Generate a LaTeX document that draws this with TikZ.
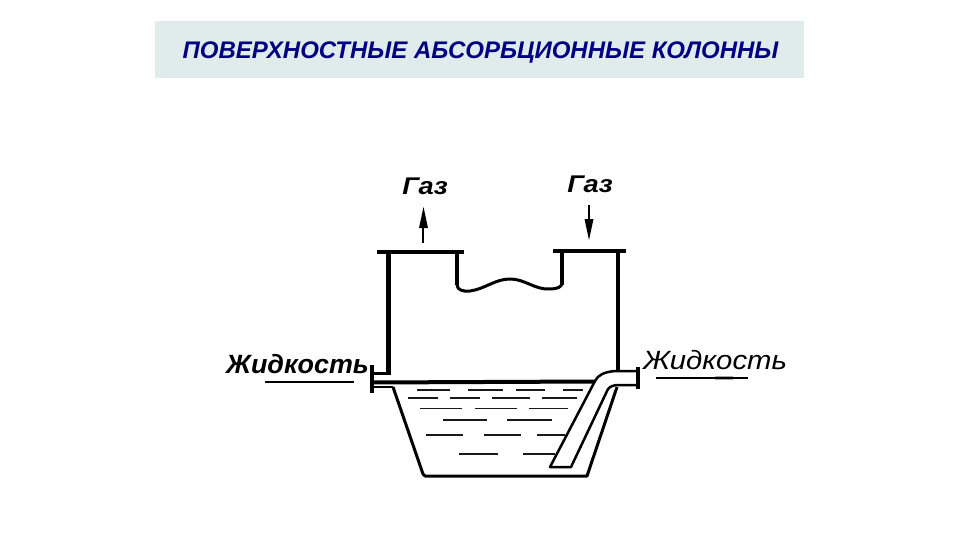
\documentclass[tikz,border=0pt]{standalone}
\usepackage{fontspec}
\setmainfont{Liberation Sans}
\definecolor{band}{HTML}{E0ECEC}
\definecolor{navytitle}{HTML}{000080}
\tikzset{
  flange/.style={line width=4.5pt,black},
  liquid/.style={line width=1.5pt,black!90},
  gaslbl/.style={font=\itshape\bfseries\fontsize{21}{21}\selectfont,inner sep=0pt,xscale=1.3,yscale=1.15},
}
\begin{document}
\begin{tikzpicture}[x=1pt,y=-1pt]
\useasboundingbox (0,0) rectangle (960,540);
\fill[white] (0,0) rectangle (960,540);
\node[fill=band,minimum width=649pt,minimum height=57pt,inner sep=0pt] (titlebox) at (479.5,49.5) {};
\node[font=\itshape\bfseries\fontsize{24}{26}\selectfont,navytitle,inner sep=0pt] (title) at (480.5,52.5) {ПОВЕРХНОСТНЫЕ АБСОРБЦИОННЫЕ КОЛОННЫ};
% flanges and walls
\draw[flange] (377,252) -- (464,252);
\draw[flange] (553,251) -- (626,251);
\draw[line width=5pt] (388,252) -- (388,375);
\draw[line width=3pt] (390,373) -- (373,373);
\draw[line width=4pt] (618,251) -- (618,371);
\draw[line width=3.5pt,line join=round] (457,252) -- (457,285);
\draw[line width=3pt,line join=round] (457,285)
  .. controls (457,290) and (464,292) .. (470,291)
  .. controls (485,289) and (495,279) .. (510,279)
  .. controls (525,279) and (535,290) .. (550,289)
  .. controls (557,289) and (562,287) .. (562,283);
\draw[line width=3.5pt] (562,285) -- (562,251);
% inlet pipe
\draw[line width=4pt] (372,365) -- (372,393);
\draw[line width=2.5pt] (372,387) -- (393,387);
\draw[line width=4pt] (372,382.5) -- (595,381.5);
% vessel
\draw[line width=3pt,line join=round] (393,387) -- (423,474) -- (425,476) -- (587,476) -- (617,387);
% outlet pipe
\draw[line width=2.5pt,line join=round] (638,371) -- (615,371)
  .. controls (604,372) and (598,375) .. (595,381) -- (550,467) -- (571,467) -- (608,389)
  .. controls (610,386) and (615,385) .. (618,385) -- (638,385);
\draw[line width=4pt] (638,367) -- (638,389);
% liquid lines
\foreach \a/\b/\y in {
  417/450/390, 468/503/390, 516/545/390, 563/583/390,
  408/438/398, 450/480/398, 492/530/398, 542/577/398,
  420/462/408.5, 475/517/408.5, 529/568/408.5,
  443/487/420, 507/552/420,
  426/463/435, 484/521/435, 537/565/435,
  459/498/454, 523/555/454}
  \draw[liquid] (\a,\y) -- (\b,\y);
% gas arrows
\draw[line width=2.6pt] (423,243) -- (423,222);
\fill (423.5,207) -- (428,228) -- (419,228) -- cycle;
\draw[line width=2.6pt] (589,205) -- (589,225);
\fill (589,240) -- (593.5,219) -- (584.5,219) -- cycle;
\node[gaslbl] (gas1) at (425,186) {Газ};
\node[gaslbl] (gas2) at (590,184) {Газ};
\node[font=\itshape\bfseries\fontsize{24}{24}\selectfont,inner sep=0pt,xscale=1.12,yscale=1.1] (liq1) at (297.5,364.5) {Жидкость};
\node[font=\itshape\fontsize{24}{24}\selectfont,inner sep=0pt,xscale=1.22,yscale=1.1] (liq2) at (715,360) {Жидкость};
\draw[line width=2pt] (265,382) -- (354,382);
\draw[line width=1.5pt] (656,378) -- (748,378);
\fill (712,378) -- (716,376.6) -- (732,376.6) -- (738,378) -- (732,379.4) -- (716,379.4) -- cycle;
\end{tikzpicture}
\end{document}
